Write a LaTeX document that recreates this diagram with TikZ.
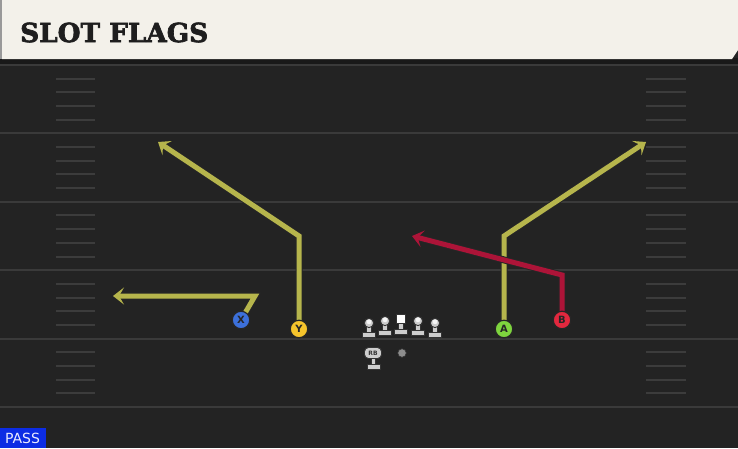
\documentclass[tikz,border=0pt]{standalone}
\usepackage{fontspec}
\usepackage{graphicx}
\newfontfamily\titlefont[BoldFeatures={FakeBold=2.5}]{DejaVu Serif}
\newfontfamily\labelfont{DejaVu Sans}
\usetikzlibrary{arrows.meta}
\pgfdeclarelayer{back}
\pgfdeclarelayer{mid}
\pgfsetlayers{back,mid,main}
\definecolor{field}{RGB}{35,35,35}
\definecolor{yardline}{RGB}{58,58,58}
\definecolor{hashc}{RGB}{60,60,60}
\definecolor{banner}{RGB}{243,241,234}
\definecolor{titlec}{RGB}{30,30,30}
\definecolor{olive}{RGB}{182,181,76}
\definecolor{routered}{RGB}{172,20,56}
\definecolor{xblue}{RGB}{60,112,218}
\definecolor{yyellow}{RGB}{246,196,44}
\definecolor{agreen}{RGB}{126,212,62}
\definecolor{bred}{RGB}{226,40,62}
\definecolor{passblue}{RGB}{12,44,228}
\definecolor{lineman}{RGB}{205,205,205}
\tikzset{
  player/.style={circle, draw=black!85, line width=1.2pt, minimum size=17.5pt, inner sep=0pt,
    font=\labelfont\bfseries\fontsize{10}{10}\selectfont, text=black!85},
  route/.style={line width=5pt, line join=miter, draw=olive,
    -{Stealth[length=11pt,width=17pt,inset=5pt]},
    preaction={draw=black!85, line width=7pt, -{Stealth[length=11pt,width=17pt,inset=5pt,line width=1.5pt]}}},
  hotroute/.style={route, draw=routered},
  yard/.style={draw=yardline, line width=2pt},
  hashm/.style={draw=hashc, line width=2pt},
  lm/.style={fill=lineman, draw=black!80, line width=0.9pt},
  pics/oline/.style={code={
    \fill[lm] (-2.4,0) rectangle (2.4,10);
    \fill[lm] (-6.5,9) rectangle (6.5,14.5);
    \fill[lm] (0,0) circle (4.6pt);
    \fill[white!80!lineman] (0,-1.2) circle (2.4pt);
  }},
}
\begin{document}
\begin{tikzpicture}[x=1pt,y=-1pt]
\useasboundingbox (0,0) rectangle (738,448);
\begin{pgfonlayer}{back}
  \fill[field] (0,0) rectangle (738,448);
  \fill[black!90] (0,58) rectangle (738,64);
  % yard lines
  \foreach \yy in {65,133.4,201.8,270.2,338.6,407} {
    \draw[yard] (0,\yy) -- (738,\yy);
  }
  % hash marks
  \foreach \base in {65,133.4,201.8,270.2,338.6} {
    \foreach \k in {1,2,3,4} {
      \draw[hashm] (56,{\base+13.68*\k}) -- (95,{\base+13.68*\k});
      \draw[hashm] (646,{\base+13.68*\k}) -- (686,{\base+13.68*\k});
    }
  }
  % banner
  \fill[banner] (2,0) -- (738,0) -- (738,50) -- (732,59) -- (2,59) -- cycle;
  \fill[black!40] (0,0) rectangle (2,59);
\end{pgfonlayer}

\node[anchor=west, inner sep=0pt, text=titlec] (title) at (20,32.5)
  {\resizebox{188pt}{!}{\titlefont\bfseries SLOT FLAGS}};

% receivers
\node[player, fill=xblue] (X) at (241,320) {X};
\node[player, fill=yyellow] (Y) at (299,329) {Y};
\node[player, fill=agreen] (A) at (504,329) {A};
\node[player, fill=bred] (B) at (562,320) {B};

% route points
\coordinate (xc) at (255,296);
\coordinate (xe) at (113,296);
\coordinate (yc) at (299,236);
\coordinate (ye) at (158,142);
\coordinate (ac) at (504,236);
\coordinate (ae) at (646,142);
\coordinate (bc) at (562,275);
\coordinate (be) at (412,236);

\begin{pgfonlayer}{mid}
  \draw[route] (X.center) -- (xc) -- (xe);
  \draw[route] (Y.center) -- (yc) -- (ye);
  \draw[route] (A.center) -- (ac) -- (ae);
  \draw[hotroute] (B.center) -- (bc) -- (be);
\end{pgfonlayer}

% offensive line
\pic at (369,323) {oline};
\pic at (385,321) {oline};
\pic at (418,321) {oline};
\pic at (435,323) {oline};
\fill[lm] (398.6,322) rectangle (403.4,330);
\fill[lm] (394.5,329) rectangle (407.5,334);
\fill[white, draw=black!80, line width=0.9pt] (396.5,314) rectangle (405.5,323);

% running back
\fill[lm] (371,356) rectangle (375.4,366);
\fill[lm] (367,364) rectangle (380,369);
\node[lm, rounded corners=4pt, minimum width=17pt, minimum height=11pt, inner sep=0pt,
  font=\labelfont\bfseries\fontsize{6}{6}\selectfont, text=black!80] (RB) at (373,353) {RB};
\node[circle, fill=black!45, draw=black!80, line width=0.6pt, minimum size=8.5pt, inner sep=0pt] (QB) at (402,353) {};

% pass tag
\fill[passblue] (0,428) rectangle (46,448);
\node[text=white!92!blue, font=\labelfont\fontsize{14}{14}\selectfont, inner sep=0pt] (pass) at (22.5,438.5) {PASS};
\end{tikzpicture}
\end{document}
